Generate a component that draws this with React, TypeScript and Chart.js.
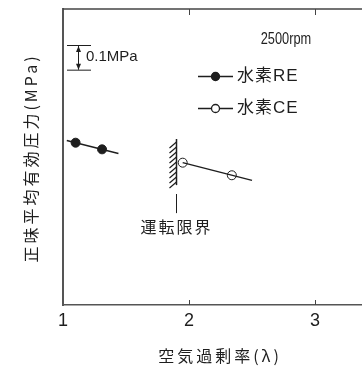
import React, { useEffect, useRef } from "react";
import { Chart, registerables } from "chart.js";

Chart.register(...registerables);

// ---- data ----
const xTicks = [1, 2, 3];
const xMin = 1;
const xMax = 3.373;
const yMin = 0;
const yMax = 1.2;

const reLine = [
  { x: 1.03, y: 0.667 },
  { x: 1.44, y: 0.614 },
];
const rePoints = [
  { x: 1.1, y: 0.658 },
  { x: 1.31, y: 0.631 },
];
const ceLine = [
  { x: 1.95, y: 0.577 },
  { x: 2.5, y: 0.505 },
];
const cePoints = [
  { x: 1.95, y: 0.577 },
  { x: 2.34, y: 0.526 },
];

const limitX = 1.9;
const limitTop = 0.673;
const limitBottom = 0.486;
const scaleBarSize = 0.1;

const labels = {
  yTitle: "正味平均有効圧力(MPa)",
  xTitle: "空気過剰率(λ)",
  rpm: "2500rpm",
  scaleBar: "0.1MPa",
  re: "水素RE",
  ce: "水素CE",
  limit: "運転限界",
};

const FONT = '"Liberation Sans", Arial, "Noto Sans CJK JP", sans-serif';
const CJK = '"Noto Sans CJK JP", "Liberation Sans", sans-serif';
const INK = "#1e1e1e";

function drawText(
  ctx: CanvasRenderingContext2D,
  s: string,
  x: number,
  y: number,
  font: string,
  align: CanvasTextAlign = "left",
  spacing = 0,
  sx = 1
) {
  ctx.save();
  ctx.translate(x, y);
  ctx.scale(sx, 1);
  ctx.font = font;
  (ctx as any).letterSpacing = spacing + "px";
  ctx.textAlign = align;
  ctx.textBaseline = "middle";
  ctx.fillStyle = INK;
  ctx.fillText(s, 0, 0);
  ctx.restore();
}

const decor = {
  id: "decor",
  afterDraw(chart: any) {
    const ctx: CanvasRenderingContext2D = chart.ctx;
    const xs = chart.scales.x;
    const ys = chart.scales.y;
    const area = chart.chartArea;
    ctx.save();
    ctx.strokeStyle = INK;
    ctx.fillStyle = INK;

    // top frame line
    ctx.lineWidth = 1.5;
    ctx.strokeStyle = "#444";
    ctx.beginPath();
    ctx.moveTo(area.left, area.top);
    ctx.lineTo(chart.width, area.top);
    ctx.stroke();

    // inward ticks
    ctx.lineWidth = 1;
    xTicks.forEach((t) => {
      if (t === xMin) return;
      const px = Math.round(xs.getPixelForValue(t)) + 0.5;
      ctx.beginPath();
      ctx.moveTo(px, area.bottom);
      ctx.lineTo(px, area.bottom - 5);
      ctx.moveTo(px, area.top);
      ctx.lineTo(px, area.top + 6);
      ctx.stroke();
    });

    ctx.strokeStyle = INK;
    // scale bar (0.1 MPa)
    const barTop = 45;
    const barBottom = barTop + (ys.getPixelForValue(0) - ys.getPixelForValue(scaleBarSize));
    ctx.lineWidth = 1;
    ctx.beginPath();
    ctx.moveTo(67, barTop + 0.5);
    ctx.lineTo(91, barTop + 0.5);
    ctx.moveTo(67, barBottom + 0.5);
    ctx.lineTo(91, barBottom + 0.5);
    ctx.moveTo(78.5, barTop + 1);
    ctx.lineTo(78.5, barBottom);
    ctx.stroke();
    ctx.beginPath();
    ctx.moveTo(78.5, barTop + 1);
    ctx.lineTo(76, barTop + 7);
    ctx.lineTo(81, barTop + 7);
    ctx.closePath();
    ctx.fill();
    ctx.beginPath();
    ctx.moveTo(78.5, barBottom);
    ctx.lineTo(76, barBottom - 6);
    ctx.lineTo(81, barBottom - 6);
    ctx.closePath();
    ctx.fill();
    drawText(ctx, labels.scaleBar, 86, 57, `15px ${FONT}`);

    // rpm label
    drawText(ctx, labels.rpm, 286, 40, `16px ${FONT}`, "center", 0, 0.8);

    // legend
    const legendItems = [
      { y: 76, fill: INK, text: labels.re },
      { y: 108, fill: "#ffffff", text: labels.ce },
    ];
    legendItems.forEach((it) => {
      ctx.lineWidth = 1.3;
      ctx.strokeStyle = INK;
      ctx.beginPath();
      ctx.moveTo(198, it.y + 0.5);
      ctx.lineTo(233, it.y + 0.5);
      ctx.stroke();
      ctx.beginPath();
      ctx.arc(215.5, it.y + 0.5, 4, 0, Math.PI * 2);
      ctx.fillStyle = it.fill;
      ctx.fill();
      ctx.stroke();
      drawText(ctx, it.text, 237, it.y, `17px ${FONT}`, "left", 1);
    });

    // operating limit wall with hatching
    const lx = Math.round(xs.getPixelForValue(limitX)) + 0.5;
    const lt = ys.getPixelForValue(limitTop);
    const lb = ys.getPixelForValue(limitBottom);
    ctx.strokeStyle = INK;
    ctx.lineWidth = 1.5;
    ctx.beginPath();
    ctx.moveTo(lx, lt);
    ctx.lineTo(lx, lb);
    ctx.stroke();
    ctx.lineWidth = 1.2;
    ctx.beginPath();
    for (let y = lt + 3; y < lb - 2; y += 5) {
      ctx.moveTo(lx, y);
      ctx.lineTo(lx - 7, y + 6);
    }
    ctx.stroke();

    // arrow pointing to the wall
    ctx.lineWidth = 1;
    ctx.beginPath();
    ctx.moveTo(lx, lb + 5);
    ctx.lineTo(lx, lb + 28);
    ctx.stroke();
    ctx.beginPath();
    ctx.moveTo(lx, lb + 2);
    ctx.lineTo(lx - 2.5, lb + 9);
    ctx.lineTo(lx + 2.5, lb + 9);
    ctx.closePath();
    ctx.fill();
    drawText(ctx, labels.limit, lx, 227, `16px ${CJK}`, "center", 2);

    // axis titles
    drawText(ctx, labels.xTitle, 220, 356, `16px ${CJK}`, "center", 3);
    ctx.save();
    ctx.translate(31, 158);
    ctx.rotate(-Math.PI / 2);
    drawText(ctx, labels.yTitle, 0, 0, `16px ${CJK}`, "center", 3);
    ctx.restore();

    ctx.restore();
  },
};

export default function App() {
  const ref = useRef<HTMLCanvasElement>(null);
  useEffect(() => {
    if (!ref.current) return;
    const chart = new Chart(ref.current, {
      type: "scatter",
      data: {
        datasets: [
          {
            data: reLine,
            showLine: true,
            pointRadius: 0,
            borderColor: INK,
            borderWidth: 1.4,
          },
          {
            data: ceLine,
            showLine: true,
            pointRadius: 0,
            borderColor: INK,
            borderWidth: 1.4,
          },
          {
            data: rePoints,
            pointRadius: 4.5,
            pointBackgroundColor: INK,
            pointBorderColor: INK,
            pointBorderWidth: 1,
          },
          {
            data: cePoints,
            pointRadius: 4.5,
            pointBackgroundColor: "#ffffff",
            pointBorderColor: INK,
            pointBorderWidth: 1,
          },
        ],
      },
      options: {
        animation: false,
        responsive: false,
        maintainAspectRatio: false,
        events: [],
        layout: { autoPadding: false, padding: { top: 9, left: 0, right: 0, bottom: 0 } },
        plugins: { legend: { display: false }, tooltip: { enabled: false } },
        scales: {
          x: {
            type: "linear",
            min: xMin,
            max: xMax,
            afterFit: (s: any) => {
              s.height = 62;
              s.paddingLeft = 0;
              s.paddingRight = 0;
            },
            afterBuildTicks: (s: any) => {
              s.ticks = xTicks.map((v) => ({ value: v }));
            },
            grid: { display: false, drawTicks: false },
            border: { display: true, color: "#555", width: 1.5 },
            ticks: {
              color: INK,
              padding: 5,
              font: { size: 18, family: FONT },
              autoSkip: false,
              maxRotation: 0,
              callback: (v: any) => String(v),
            },
          },
          y: {
            type: "linear",
            min: yMin,
            max: yMax,
            afterFit: (s: any) => {
              s.width = 63;
              s.paddingTop = 0;
              s.paddingBottom = 0;
            },
            grid: { display: false, drawTicks: false },
            border: { display: true, color: "#555", width: 2 },
            ticks: { display: false },
          },
        },
      },
      plugins: [decor],
    });
    return () => chart.destroy();
  }, []);
  return (
    <div style={{ position: "absolute", left: 0, top: 0, width: 362, height: 367 }}>
      <canvas ref={ref} width={362} height={367} style={{ width: 362, height: 367 }} />
    </div>
  );
}
